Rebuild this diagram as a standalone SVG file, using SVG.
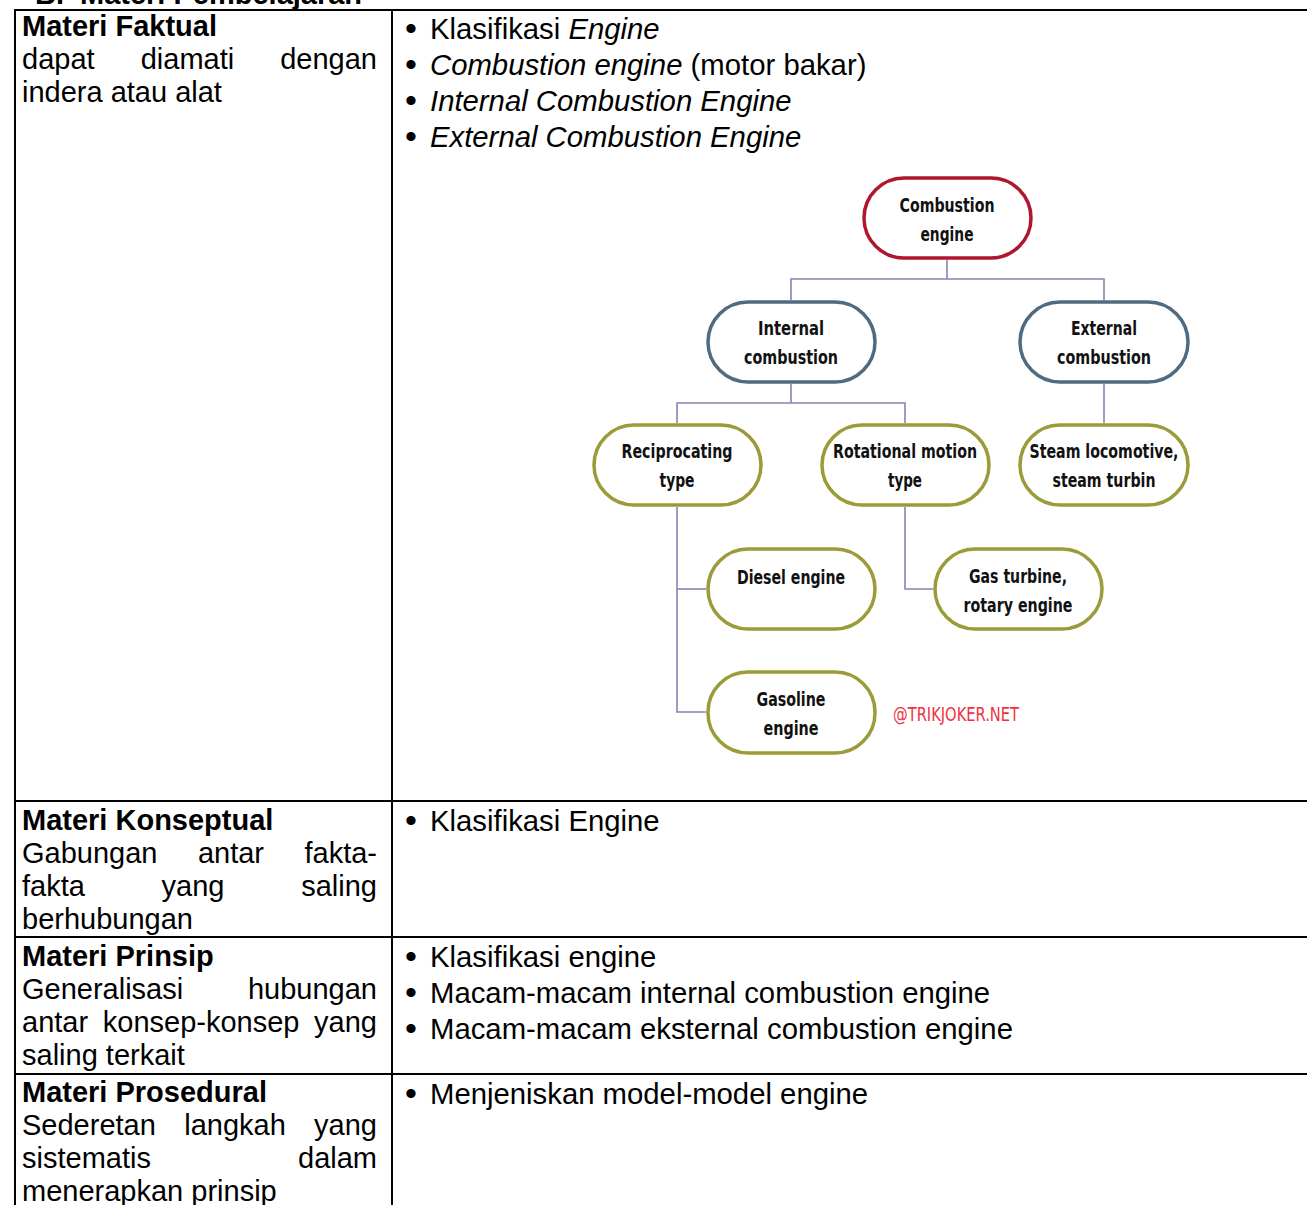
<svg xmlns="http://www.w3.org/2000/svg" width="1307" height="1205" viewBox="0 0 1307 1205">
<style>
  .t { font-family: "Liberation Sans", Arial, sans-serif; font-size: 29px; fill: #000; }
  .r { font-size: 29.3px; }
  .bul { font-family: "Liberation Sans", Arial, sans-serif; font-size: 34px; fill: #000; }
  .b { font-weight: bold; }
  .i { font-style: italic; }
  .grid { stroke: #000; stroke-width: 2; fill: none; }
  .pill { fill: #fff; stroke-width: 3.5; }
  .red { stroke: #b0172f; }
  .slate { stroke: #4e6b80; }
  .olive { stroke: #9b9b3a; }
  .nt { font-family: "Liberation Sans Narrow", "DejaVu Sans Condensed", "Liberation Sans", sans-serif; font-weight: bold; font-size: 20px; fill: #111; text-anchor: middle; }
  .conn { stroke: #8585b5; stroke-width: 1.6; fill: none; }
  .wm { font-family: "Liberation Sans Narrow", "DejaVu Sans Condensed", "Liberation Sans", sans-serif; font-size: 19px; fill: #f0303e; }
</style>
<rect width="1307" height="1205" fill="#fff"/>

<!-- header (cut off at top edge, as in the reference) -->
<text class="t b" x="35" y="4">B.<tspan x="80">Materi Pembelajaran</tspan></text>

<!-- table grid -->
<g id="table">
  <line class="grid" x1="15" y1="10" x2="1307" y2="10"/>
  <line class="grid" x1="15" y1="9" x2="15" y2="1205"/>
  <line class="grid" x1="392" y1="9" x2="392" y2="1205"/>
  <line class="grid" x1="15" y1="801" x2="1307" y2="801"/>
  <line class="grid" x1="15" y1="937" x2="1307" y2="937"/>
  <line class="grid" x1="15" y1="1074" x2="1307" y2="1074"/>
</g>

<!-- left column -->
<g id="left-col">
  <text class="t b" x="22" y="36">Materi Faktual</text>
  <text class="t" y="69"><tspan x="22">dapat</tspan><tspan x="140.7">diamati</tspan><tspan x="377" text-anchor="end">dengan</tspan></text>
  <text class="t" x="22" y="102">indera atau alat</text>

  <text class="t b" x="22" y="830">Materi Konseptual</text>
  <text class="t" y="863"><tspan x="22">Gabungan</tspan><tspan x="197.9">antar</tspan><tspan x="377" text-anchor="end">fakta-</tspan></text>
  <text class="t" y="896"><tspan x="22">fakta</tspan><tspan x="161.6">yang</tspan><tspan x="377" text-anchor="end">saling</tspan></text>
  <text class="t" x="22" y="929">berhubungan</text>

  <text class="t b" x="22" y="966">Materi Prinsip</text>
  <text class="t" y="999"><tspan x="22">Generalisasi</tspan><tspan x="377" text-anchor="end">hubungan</tspan></text>
  <text class="t" y="1032"><tspan x="22">antar</tspan><tspan x="102.8">konsep-konsep</tspan><tspan x="377" text-anchor="end">yang</tspan></text>
  <text class="t" x="22" y="1065">saling terkait</text>

  <text class="t b" x="22" y="1102">Materi Prosedural</text>
  <text class="t" y="1135"><tspan x="22">Sederetan</tspan><tspan x="184.2">langkah</tspan><tspan x="377" text-anchor="end">yang</tspan></text>
  <text class="t" y="1168"><tspan x="22">sistematis</tspan><tspan x="377" text-anchor="end">dalam</tspan></text>
  <text class="t" x="22" y="1201">menerapkan prinsip</text>
</g>

<!-- right column -->
<g id="right-col">
  <text class="bul" x="405" y="40">•</text>
  <text class="t r" x="430" y="39">Klasifikasi <tspan class="i">Engine</tspan></text>
  <text class="bul" x="405" y="76">•</text>
  <text class="t r" x="430" y="75"><tspan class="i">Combustion engine</tspan> (motor bakar)</text>
  <text class="bul" x="405" y="112">•</text>
  <text class="t r i" x="430" y="111">Internal Combustion Engine</text>
  <text class="bul" x="405" y="148">•</text>
  <text class="t r i" x="430" y="147">External Combustion Engine</text>

  <text class="bul" x="405" y="832">•</text>
  <text class="t r" x="430" y="831">Klasifikasi Engine</text>

  <text class="bul" x="405" y="968">•</text>
  <text class="t r" x="430" y="967">Klasifikasi engine</text>
  <text class="bul" x="405" y="1004">•</text>
  <text class="t r" x="430" y="1003">Macam-macam internal combustion engine</text>
  <text class="bul" x="405" y="1040">•</text>
  <text class="t r" x="430" y="1039">Macam-macam eksternal combustion engine</text>

  <text class="bul" x="405" y="1105">•</text>
  <text class="t r" x="430" y="1104">Menjeniskan model-model engine</text>
</g>

<!-- connectors -->
<g id="connectors">
  <polyline class="conn" points="947,260 947,279"/>
  <polyline class="conn" points="791,300 791,279 1104,279 1104,300"/>
  <polyline class="conn" points="791,384 791,403"/>
  <polyline class="conn" points="677,423 677,403 905,403 905,423"/>
  <polyline class="conn" points="1104,384 1104,423"/>
  <polyline class="conn" points="677,507 677,712 706,712"/>
  <polyline class="conn" points="677,589 706,589"/>
  <polyline class="conn" points="905,507 905,589 933,589"/>
</g>

<!-- nodes -->
<g id="node-combustion">
  <rect class="pill red" x="864" y="178" width="167" height="80" rx="40"/>
  <text class="nt" x="947" y="212" textLength="95" lengthAdjust="spacingAndGlyphs">Combustion</text>
  <text class="nt" x="947" y="241" textLength="53" lengthAdjust="spacingAndGlyphs">engine</text>
</g>
<g id="node-internal">
  <rect class="pill slate" x="708" y="302" width="167" height="80" rx="40"/>
  <text class="nt" x="791" y="335" textLength="66" lengthAdjust="spacingAndGlyphs">Internal</text>
  <text class="nt" x="791" y="364" textLength="94" lengthAdjust="spacingAndGlyphs">combustion</text>
</g>
<g id="node-external">
  <rect class="pill slate" x="1020" y="302" width="168" height="80" rx="40"/>
  <text class="nt" x="1104" y="335" textLength="66" lengthAdjust="spacingAndGlyphs">External</text>
  <text class="nt" x="1104" y="364" textLength="94" lengthAdjust="spacingAndGlyphs">combustion</text>
</g>
<g id="node-reciprocating">
  <rect class="pill olive" x="594" y="425" width="167" height="80" rx="40"/>
  <text class="nt" x="677" y="458" textLength="111" lengthAdjust="spacingAndGlyphs">Reciprocating</text>
  <text class="nt" x="677" y="487" textLength="35" lengthAdjust="spacingAndGlyphs">type</text>
</g>
<g id="node-rotational">
  <rect class="pill olive" x="822" y="425" width="167" height="80" rx="40"/>
  <text class="nt" x="905" y="458" textLength="144" lengthAdjust="spacingAndGlyphs">Rotational motion</text>
  <text class="nt" x="905" y="487" textLength="34" lengthAdjust="spacingAndGlyphs">type</text>
</g>
<g id="node-steam">
  <rect class="pill olive" x="1020" y="425" width="168" height="80" rx="40"/>
  <text class="nt" x="1104" y="458" textLength="149" lengthAdjust="spacingAndGlyphs">Steam locomotive,</text>
  <text class="nt" x="1104" y="487" textLength="103" lengthAdjust="spacingAndGlyphs">steam turbin</text>
</g>
<g id="node-diesel">
  <rect class="pill olive" x="708" y="549" width="167" height="80" rx="40"/>
  <text class="nt" x="791" y="584" textLength="108" lengthAdjust="spacingAndGlyphs">Diesel engine</text>
</g>
<g id="node-gasturbine">
  <rect class="pill olive" x="935" y="549" width="167" height="80" rx="40"/>
  <text class="nt" x="1018" y="583" textLength="98" lengthAdjust="spacingAndGlyphs">Gas turbine,</text>
  <text class="nt" x="1018" y="612" textLength="109" lengthAdjust="spacingAndGlyphs">rotary engine</text>
</g>
<g id="node-gasoline">
  <rect class="pill olive" x="708" y="672" width="167" height="81" rx="40"/>
  <text class="nt" x="791" y="706" textLength="69" lengthAdjust="spacingAndGlyphs">Gasoline</text>
  <text class="nt" x="791" y="735" textLength="55" lengthAdjust="spacingAndGlyphs">engine</text>
</g>

<text class="wm" x="893" y="721" textLength="126" lengthAdjust="spacingAndGlyphs">@TRIKJOKER.NET</text>
</svg>
